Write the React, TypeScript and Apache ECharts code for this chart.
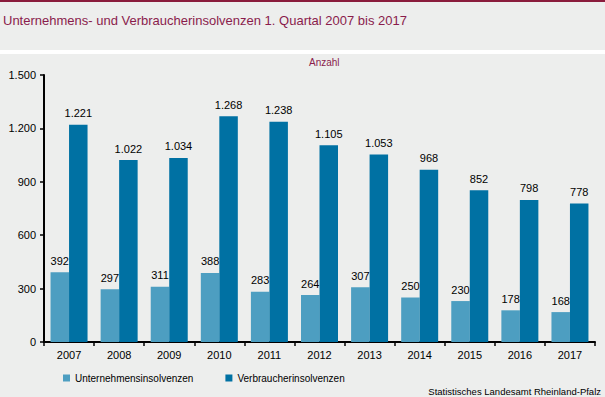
import React, { useEffect, useRef } from "react";
import * as echarts from "echarts";

const years = ["2007", "2008", "2009", "2010", "2011", "2012", "2013", "2014", "2015", "2016", "2017"];
const unternehmen = [392, 297, 311, 388, 283, 264, 307, 250, 230, 178, 168];
const verbraucher = [1221, 1022, 1034, 1268, 1238, 1105, 1053, 968, 852, 798, 778];
const seriesNames = ["Unternehmensinsolvenzen", "Verbraucherinsolvenzen"];

const fmt = (v: number) => String(v).replace(/\B(?=(\d{3})+(?!\d))/g, ".");

export default function App() {
  const ref = useRef<HTMLDivElement>(null);
  useEffect(() => {
    document.body.style.margin = "0";
    const chart = echarts.init(ref.current!, null, { renderer: "svg" });
    const font = "Liberation Sans, Arial, sans-serif";
    chart.setOption({
      animation: false,
      backgroundColor: "#edeeed",
      textStyle: { fontFamily: font },
      graphic: [
        { type: "rect", left: 0, top: 0, shape: { width: 605, height: 2 }, style: { fill: "#8a1c3c" } },
        { type: "rect", left: 0, top: 50, shape: { width: 605, height: 4 }, style: { fill: "#ffffff" } },
        {
          type: "text", left: 3, top: 14,
          style: { text: "Unternehmens- und Verbraucherinsolvenzen 1. Quartal 2007 bis 2017", fill: "#8a1c4c", font: "13px " + font },
        },
        {
          type: "text", left: 309, top: 57,
          style: { text: "Anzahl", fill: "#8a1c4c", font: "10px " + font },
        },
        {
          type: "text", right: 4, top: 386,
          style: { text: "Statistisches Landesamt Rheinland-Pfalz", fill: "#000", font: "9.5px " + font },
        },
      ],
      grid: { left: 44, right: 10, top: 75, bottom: 55 },
      legend: {
        left: 58, top: 368, itemWidth: 7, itemHeight: 7, itemGap: 32,
        icon: "rect",
        textStyle: { fontSize: 10, color: "#000", fontFamily: font },
        data: seriesNames,
      },
      xAxis: {
        type: "category",
        data: years,
        axisLine: { lineStyle: { color: "#000", width: 2 } },
        axisTick: { show: true, length: 4, lineStyle: { color: "#000", width: 1.5 } },
        axisLabel: { color: "#000", fontSize: 11, margin: 7 },
      },
      yAxis: {
        type: "value",
        min: 0, max: 1500, interval: 300,
        axisLine: { show: true, lineStyle: { color: "#000", width: 2 } },
        axisTick: { show: true, length: 4, lineStyle: { color: "#000", width: 1.5 } },
        splitLine: { show: false },
        axisLabel: { color: "#000", fontSize: 11, margin: 8, formatter: (v: number) => fmt(v) },
      },
      series: [
        {
          name: seriesNames[0], type: "bar", data: unternehmen,
          barWidth: 18.5, barGap: "0%",
          itemStyle: { color: "#4d9ec1" },
          label: { show: true, position: "top", color: "#000", fontSize: 11, distance: 6, formatter: (p: any) => fmt(p.value) },
        },
        {
          name: seriesNames[1], type: "bar", data: verbraucher,
          barWidth: 18.5, barGap: "0%",
          itemStyle: { color: "#0071a3" },
          label: { show: true, position: "top", color: "#000", fontSize: 11, distance: 6, formatter: (p: any) => fmt(p.value) },
        },
      ],
    });
    return () => chart.dispose();
  }, []);
  return <div ref={ref} style={{ width: 605, height: 397 }} />;
}
